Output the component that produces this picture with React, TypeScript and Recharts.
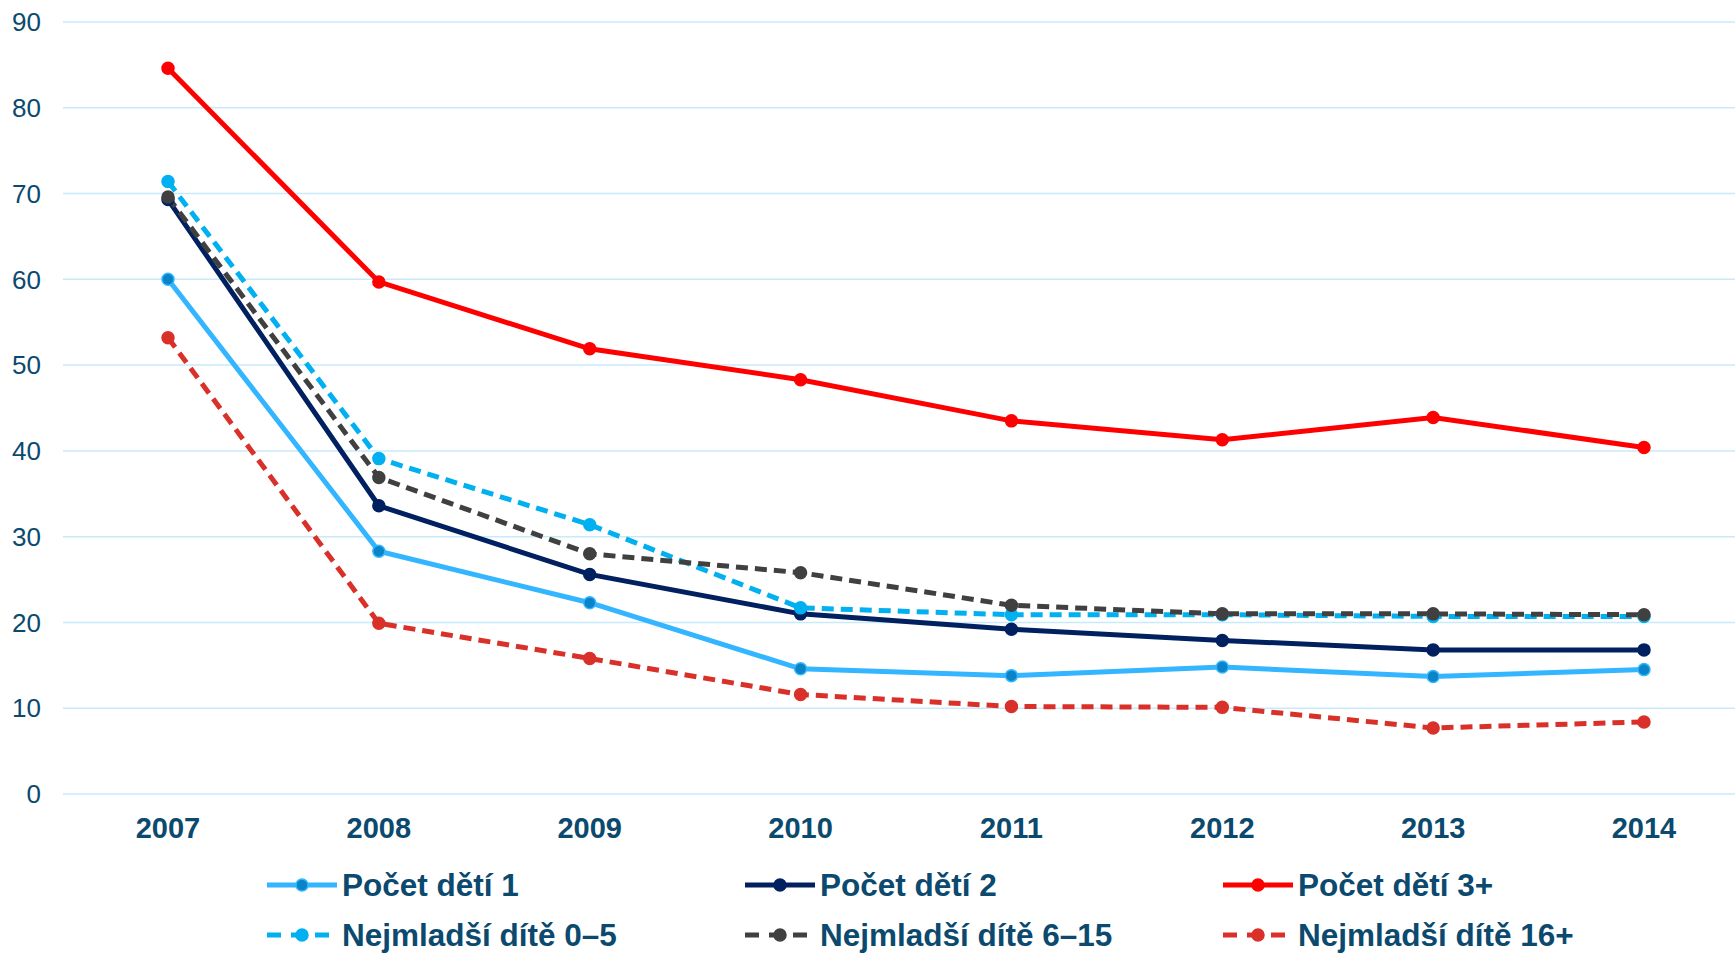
import { LineChart, Line, XAxis, YAxis, CartesianGrid, Legend } from 'recharts'

const years = ['2007', '2008', '2009', '2010', '2011', '2012', '2013', '2014']

const detiJedno = [60.0, 28.3, 22.3, 14.6, 13.8, 14.8, 13.7, 14.5]
const detiDve = [69.3, 33.6, 25.6, 21.0, 19.2, 17.9, 16.8, 16.8]
const detiTriPlus = [84.6, 59.7, 51.9, 48.3, 43.5, 41.3, 43.9, 40.4]
const nejmladsi05 = [71.4, 39.1, 31.4, 21.7, 20.9, 20.9, 20.7, 20.7]
const nejmladsi615 = [69.6, 36.9, 28.0, 25.8, 22.0, 21.0, 21.0, 20.9]
const nejmladsi16 = [53.2, 19.9, 15.8, 11.6, 10.2, 10.1, 7.7, 8.4]

const yTicks = [0, 10, 20, 30, 40, 50, 60, 70, 80, 90]

const series = [
  { key: 's1', name: 'Počet dětí 1', values: detiJedno, color: '#33b6ff', dot: '#0a84c8', dash: undefined },
  { key: 's2', name: 'Počet dětí 2', values: detiDve, color: '#002060', dot: '#002060', dash: undefined },
  { key: 's3', name: 'Počet dětí 3+', values: detiTriPlus, color: '#ff0000', dot: '#ff0000', dash: undefined },
  { key: 's4', name: 'Nejmladší dítě 0–5', values: nejmladsi05, color: '#00b0f0', dot: '#00b0f0', dash: '12 7' },
  { key: 's5', name: 'Nejmladší dítě 6–15', values: nejmladsi615, color: '#404040', dot: '#404040', dash: '12 7' },
  { key: 's6', name: 'Nejmladší dítě 16+', values: nejmladsi16, color: '#d9312a', dot: '#d9312a', dash: '12 7' },
]

const data = years.map((year, i) => {
  const row: Record<string, string | number> = { year }
  series.forEach((s) => {
    row[s.key] = s.values[i]
  })
  return row
})

const textColor = '#0b4a6e'
const font = '"Liberation Sans", Arial, sans-serif'

function LegendBox() {
  return (
    <div style={{ position: 'relative', width: 1735, height: 100 }}>
      {series.map((s, i) => {
        const col = i % 3
        const row = Math.floor(i / 3)
        return (
          <div
            key={s.key}
            style={{
              position: 'absolute',
              left: 265 + col * 478,
              top: row * 50,
              height: 50,
              display: 'flex',
              alignItems: 'center',
              whiteSpace: 'nowrap',
            }}
          >
            <svg width={74} height={20} style={{ marginRight: 3 }}>
              <line
                x1={2}
                y1={10}
                x2={72}
                y2={10}
                stroke={s.color}
                strokeWidth={5}
                strokeDasharray={s.dash ? '14 10' : undefined}
              />
              <circle cx={37} cy={10} r={6} fill={s.dot} stroke={s.color} strokeWidth={1.5} />
            </svg>
            <span style={{ fontFamily: font, fontWeight: 700, fontSize: 31.5, color: textColor }}>{s.name}</span>
          </div>
        )
      })}
    </div>
  )
}

export default function App() {
  return (
    <div style={{ position: 'absolute', left: 0, top: 0, width: 1735, height: 953, background: '#fff' }}>
      <LineChart width={1735} height={953} data={data} margin={{ top: 22, right: 0, bottom: 0, left: 0 }}>
        <CartesianGrid vertical={false} stroke="#c8eafc" strokeWidth={1.5} />
        <XAxis
          dataKey="year"
          scale="point"
          padding={{ left: 105, right: 91 }}
          axisLine={false}
          tickLine={false}
          height={59}
          tickMargin={17}
          tick={{ fill: textColor, fontFamily: font, fontWeight: 700, fontSize: 29 }}
        />
        <YAxis
          domain={[0, 90]}
          ticks={yTicks}
          width={63}
          axisLine={false}
          tickLine={false}
          tickMargin={16}
          tick={{ fill: textColor, fontFamily: font, fontSize: 26 }}
        />
        <Legend verticalAlign="bottom" wrapperStyle={{ top: 860, left: 0 }} content={() => <LegendBox />} />
        {series.map((s) => (
          <Line
            key={s.key}
            dataKey={s.key}
            name={s.name}
            stroke={s.color}
            strokeWidth={5}
            strokeDasharray={s.dash}
            dot={{ r: 6, fill: s.dot, stroke: s.color, strokeWidth: 1.5, strokeDasharray: '' }}
            activeDot={false}
            isAnimationActive={false}
          />
        ))}
      </LineChart>
    </div>
  )
}
